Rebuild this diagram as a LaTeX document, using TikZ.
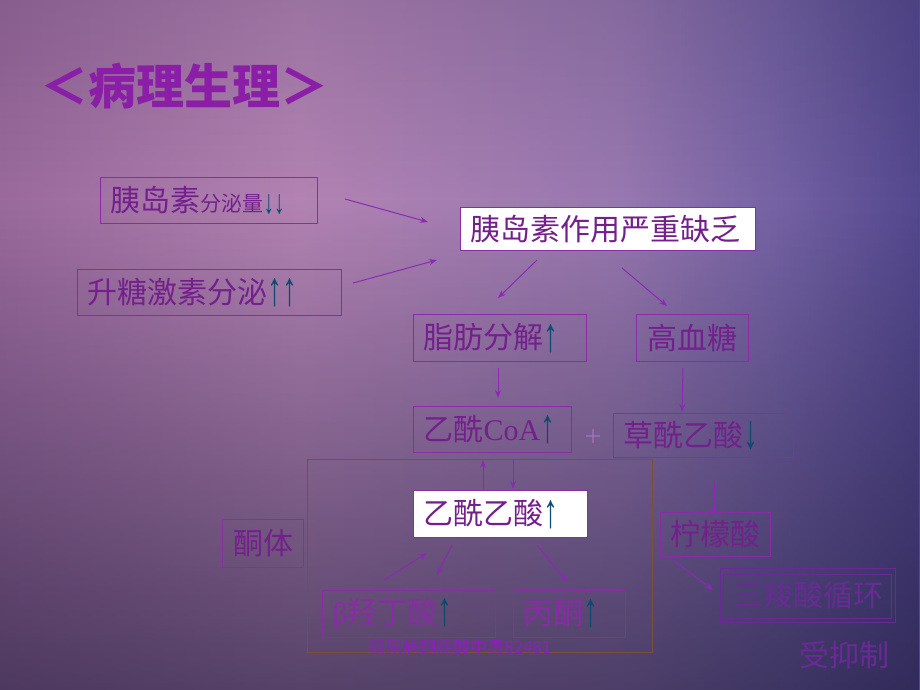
\documentclass[tikz,border=0pt]{standalone}
\usepackage{graphicx}
\usepackage{fontspec}
\setmainfont{Liberation Serif}
\newfontfamily\cjk{Noto Sans CJK SC}
\newfontfamily\ser{Liberation Serif}
\usetikzlibrary{arrows.meta,fadings}
\definecolor{bg0}{HTML}{9A6A9C}
\definecolor{bg1}{HTML}{B283B3}
\definecolor{bg2}{HTML}{9878B0}
\definecolor{bg3}{HTML}{7462A4}
\definecolor{bg4}{HTML}{54488E}
\definecolor{shadec}{HTML}{1A1838}
\definecolor{txtc}{HTML}{74208C}
\definecolor{boxc}{HTML}{8A2CA6}
\definecolor{arrc}{HTML}{8A2AB4}
\definecolor{upc}{HTML}{0F4A6E}
\definecolor{titlec}{HTML}{8A1EA6}
\definecolor{brownc}{HTML}{7A5038}
\definecolor{lowc}{HTML}{8A2AA8}
\definecolor{fadec}{HTML}{6A2A96}
\definecolor{wmc}{HTML}{8A22B8}
\definecolor{plusc}{HTML}{A070B8}
\newcommand\myup{{\ser\color{upc}\raisebox{-0.08em}{\scalebox{1}[1.6]{↑}}}}
\newcommand\mydn{{\ser\color{upc}\raisebox{-0.08em}{\scalebox{1}[1.6]{↓}}}}
\tikzfading[name=darkdown, top color=transparent!100, bottom color=transparent!0]
\tikzfading[name=darkup, top color=transparent!0, bottom color=transparent!100]
\tikzset{
  box/.style={draw=boxc, line width=1pt, anchor=north west, inner xsep=10pt, inner ysep=0pt,
    align=left, text=txtc, font=\cjk\fontsize{30}{32}\selectfont},
  wbox/.style={box, fill=white},
  conn/.style={draw=arrc, line width=1pt, -{Stealth[length=8pt,width=6pt]}},
  plain/.style={inner sep=0pt, text=txtc, font=\cjk\fontsize{30}{32}\selectfont}
}
\begin{document}
\begin{tikzpicture}[x=1pt,y=-1pt]
\useasboundingbox (0,0) rectangle (920,690);
% background
\shade[left color=bg0, right color=bg1] (0,0) rectangle (300.5,690);
\shade[left color=bg1, right color=bg2] (300,0) rectangle (620.5,690);
\shade[left color=bg2, right color=bg3] (620,0) rectangle (780.5,690);
\shade[left color=bg3, right color=bg4] (780,0) rectangle (920,690);
\fill[shadec, path fading=darkup, fill opacity=0.15] (0,0) rectangle (920,200);
\fill[shadec, path fading=darkdown, fill opacity=0.6] (0,200) rectangle (920,690);

% title
\node[plain, anchor=west, text=titlec, font=\cjk\bfseries\fontsize{48}{50}\selectfont] (title) at (40,86) {＜病理生理＞};

% boxes
\node[box, text width=197pt, minimum height=46pt] (ins) at (100,177) {胰岛素{\fontsize{21}{22}\selectfont 分泌量\mydn\mydn}};
\node[box, text width=244pt, minimum height=46pt] (glu) at (77,269) {升糖激素分泌\myup\myup};
\node[wbox, text width=275pt, minimum height=43pt] (lack) at (460,207) {胰岛素作用严重缺乏};
\node[box, text width=153pt, minimum height=47pt] (fat) at (413,314) {脂肪分解\myup};
\node[box, text width=92pt, minimum height=47pt, align=center] (hyper) at (636,314) {高血糖};
\node[box, text width=138pt, minimum height=46pt] (acoa) at (413,406) {乙酰{\ser CoA}\myup};
\node[plain, text=plusc, font=\ser\fontsize{30}{32}\selectfont] (plus) at (593,438) {+};
\node[box, text width=160pt, minimum height=44pt] (oaa) at (613,413) {草酰乙酸\mydn};
\node[draw=brownc, line width=1pt, anchor=north west, inner sep=0pt, minimum width=345pt, minimum height=193pt] (ket) at (307,459) {};
\node[wbox, text width=154pt, minimum height=47pt] (aca) at (413,490) {乙酰乙酸\myup};
\node[box, text width=61pt, minimum height=48pt, align=center] (keto) at (222,519) {酮体};
\node[box, text width=153pt, minimum height=47pt, text=lowc] (hb) at (322,590) {{\ser β}羟丁酸\myup};
\node[box, text width=92pt, minimum height=47pt, text=lowc] (ace) at (513,590) {丙酮\myup};
\node[box, text width=90pt, minimum height=44pt, align=center] (cit) at (660,512) {柠檬酸};
\node[box, draw=fadec, text=fadec, text width=155pt, minimum height=54pt, align=center] (tca) at (720,568) {三羧酸循环};
\draw[fadec, line width=0.8pt] ([shift={(3,6)}]tca.north west) rectangle ([shift={(-5,-5)}]tca.south east);
\node[plain, text=fadec] (inh) at (844,655) {受抑制};
\node[plain, text=wmc, font=\cjk\fontsize{17}{18}\selectfont] (wm) at (460,647) {糖尿病酮症酸中毒82481};

% connector coordinates
\coordinate (a1s) at (345,199); \coordinate (a1e) at (428,222);
\coordinate (a2s) at (353,283); \coordinate (a2e) at (437,260);
\coordinate (a3s) at (537,260); \coordinate (a3e) at (498,298);
\coordinate (a4s) at (622,268); \coordinate (a4e) at (667,306);
\coordinate (a5s) at (498,368); \coordinate (a5e) at (498,398);
\coordinate (a6s) at (683,368); \coordinate (a6e) at (682,412);
\coordinate (a7s) at (483,489); \coordinate (a7e) at (483,460);
\coordinate (a8s) at (513,460); \coordinate (a8e) at (513,489);
\coordinate (a9s) at (384,580); \coordinate (a9e) at (427,553);
\coordinate (a10s) at (452,545); \coordinate (a10e) at (437,575);
\coordinate (a11s) at (537,545); \coordinate (a11e) at (567,582);
\coordinate (a12s) at (714,482); \coordinate (a12e) at (714,516);
\coordinate (a13s) at (673,560); \coordinate (a13e) at (713,590);

\draw[conn] (a1s) -- (a1e);
\draw[conn] (a2s) -- (a2e);
\draw[conn] (a3s) -- (a3e);
\draw[conn] (a4s) -- (a4e);
\draw[conn] (a5s) -- (a5e);
\draw[conn] (a6s) -- (a6e);
\draw[conn] (a7s) -- (a7e);
\draw[conn] (a8s) -- (a8e);
\draw[conn] (a9s) -- (a9e);
\draw[conn] (a10s) -- (a10e);
\draw[conn] (a11s) -- (a11e);
\draw[conn] (a12s) -- (a12e);
\draw[conn] (a13s) -- (a13e);
\end{tikzpicture}
\end{document}
